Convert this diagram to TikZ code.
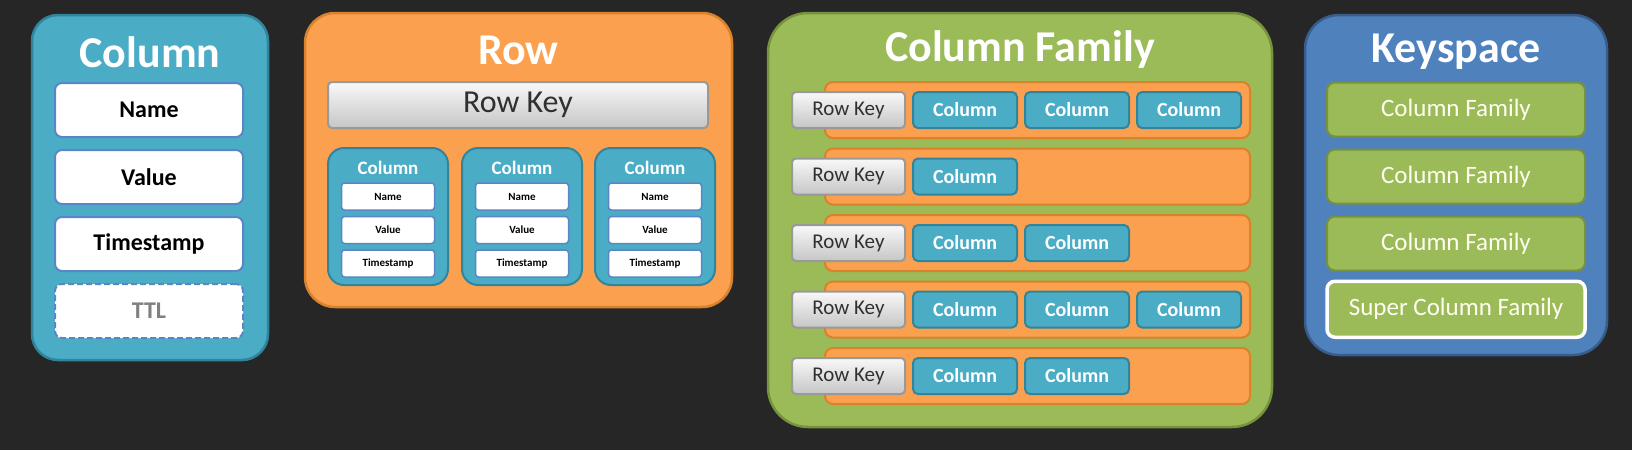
\documentclass[tikz,border=0pt]{standalone}
\usepackage{fontspec}
\setmainfont{Carlito}
\usepackage{tikz}
\usetikzlibrary{positioning}
\usepackage{xcolor}
\definecolor{bg}{HTML}{262626}
\definecolor{colblue}{HTML}{4BACC6}
\definecolor{colline}{HTML}{31849B}
\definecolor{fieldline}{HTML}{5A86C8}
\definecolor{roworange}{HTML}{FBA04E}
\definecolor{rowline}{HTML}{D9822B}
\definecolor{cfgreen}{HTML}{9BBB59}
\definecolor{cfline}{HTML}{76923C}
\definecolor{ksblue}{HTML}{4F81BD}
\definecolor{ksline}{HTML}{385D8A}
\definecolor{keytext}{HTML}{303030}

\begin{document}
\begin{tikzpicture}[x=1pt, y=-1pt,
  panel/.style={rectangle, draw, line width=2.5pt, inner sep=0pt},
  title/.style={font=\fontsize{44}{48}\selectfont\bfseries, text=white},
  field/.style={rectangle, draw=fieldline, fill=white, line width=2pt, rounded corners=7pt, minimum width=188pt, minimum height=54pt, font=\fontsize{24}{28}\selectfont\bfseries},
  smallfield/.style={rectangle, draw=fieldline, fill=white, line width=1.5pt, rounded corners=3pt, minimum width=93pt, minimum height=27pt, font=\fontsize{11}{13}\selectfont\bfseries},
  subcol/.style={rectangle, draw=colline, fill=colblue, line width=2pt, rounded corners=16pt, minimum width=120pt, minimum height=137pt},
  rowkey/.style={rectangle, draw=gray!80, line width=2pt, rounded corners=4pt, top color=white!95!gray, bottom color=gray!45, text=keytext},
  rowbar/.style={rectangle, draw=rowline, fill=roworange, line width=2pt, rounded corners=8pt, minimum width=425pt, minimum height=56pt},
  colcell/.style={rectangle, draw=colline, fill=colblue, line width=2pt, rounded corners=5pt, minimum width=104pt, minimum height=36pt, text=white, font=\fontsize{20}{24}\selectfont\bfseries},
  family/.style={rectangle, draw=cfline, fill=cfgreen, line width=2pt, rounded corners=8pt, minimum width=258pt, minimum height=54pt, text=white!94!yellow, font=\fontsize{25}{29}\selectfont}
]
  % Background
  \fill[bg] (0,0) rectangle (1632,450);
  \useasboundingbox (0,0) rectangle (1632,450);

  % Column
  \node[panel, draw=colline, fill=colblue, rounded corners=26pt, minimum width=236pt, minimum height=345pt] (column) at (150,187.5) {};
  \node[title] (coltitle) at (150,52) {Column};
  \node[field] (name) at (149,110) {Name};
  \node[field, below=11pt of name] (value) {Value};
  \node[field, below=11pt of value] (stamp) {Timestamp};
  \node[field, below=11pt of stamp, dash pattern=on 6pt off 3pt, text=gray] (ttl) {TTL};

  % Row
  \node[panel, draw=rowline, fill=roworange, rounded corners=30pt, minimum width=427pt, minimum height=294pt] (row) at (518.5,160) {};
  \node[title] (rowtitle) at (518.5,50) {Row};
  \node[rowkey, minimum width=380pt, minimum height=46pt, font=\fontsize{32}{36}\selectfont] (rowkey) at (518,105) {Row Key};

  \node[subcol] (sub1) at (388,216.5) {};
  \node[subcol] (sub2) at (522,216.5) {};
  \node[subcol] (sub3) at (655,216.5) {};
  \node[text=white, font=\fontsize{19}{22}\selectfont\bfseries] at (388,168) {Column};
  \node[text=white, font=\fontsize{19}{22}\selectfont\bfseries] at (522,168) {Column};
  \node[text=white, font=\fontsize{19}{22}\selectfont\bfseries] at (655,168) {Column};
  \node[smallfield] (name1) at (388,196.5) {Name};
  \node[smallfield, below=5pt of name1] (value1) {Value};
  \node[smallfield, below=5pt of value1] (stamp1) {Timestamp};
  \node[smallfield] (name2) at (522,196.5) {Name};
  \node[smallfield, below=5pt of name2] (value2) {Value};
  \node[smallfield, below=5pt of value2] (stamp2) {Timestamp};
  \node[smallfield] (name3) at (655,196.5) {Name};
  \node[smallfield, below=5pt of name3] (value3) {Value};
  \node[smallfield, below=5pt of value3] (stamp3) {Timestamp};

  % Column Family
  \node[panel, draw=cfline, fill=cfgreen, rounded corners=40pt, minimum width=504pt, minimum height=414pt] (cf) at (1020,220) {};
  \node[title] (cftitle) at (1020,50) {Column Family};

  \node[rowbar] (bar1) at (1037.5,110) {};
  \node[rowbar] (bar2) at (1037.5,176.5) {};
  \node[rowbar] (bar3) at (1037.5,243) {};
  \node[rowbar] (bar4) at (1037.5,309.5) {};
  \node[rowbar] (bar5) at (1037.5,376) {};

  \node[rowkey, minimum width=113pt, minimum height=36pt, font=\fontsize{21}{24}\selectfont] (rk1) at (848.5,110) {Row Key};
  \node[colcell, right=6pt of rk1] (c11) {Column};
  \node[colcell, right=6pt of c11] (c12) {Column};
  \node[colcell, right=6pt of c12] (c13) {Column};

  \node[rowkey, minimum width=113pt, minimum height=36pt, font=\fontsize{21}{24}\selectfont] (rk2) at (848.5,176.5) {Row Key};
  \node[colcell, right=6pt of rk2] (c21) {Column};

  \node[rowkey, minimum width=113pt, minimum height=36pt, font=\fontsize{21}{24}\selectfont] (rk3) at (848.5,243) {Row Key};
  \node[colcell, right=6pt of rk3] (c31) {Column};
  \node[colcell, right=6pt of c31] (c32) {Column};

  \node[rowkey, minimum width=113pt, minimum height=36pt, font=\fontsize{21}{24}\selectfont] (rk4) at (848.5,309.5) {Row Key};
  \node[colcell, right=6pt of rk4] (c41) {Column};
  \node[colcell, right=6pt of c41] (c42) {Column};
  \node[colcell, right=6pt of c42] (c43) {Column};

  \node[rowkey, minimum width=113pt, minimum height=36pt, font=\fontsize{21}{24}\selectfont] (rk5) at (848.5,376) {Row Key};
  \node[colcell, right=6pt of rk5] (c51) {Column};
  \node[colcell, right=6pt of c51] (c52) {Column};

  % Keyspace
  \node[panel, draw=ksline, fill=ksblue, rounded corners=34pt, minimum width=302pt, minimum height=340pt] (ks) at (1456,185) {};
  \node[title] (kstitle) at (1456,52) {Keyspace};
  \node[family] (fam1) at (1456,109.5) {Column Family};
  \node[family, below=11pt of fam1] (fam2) {Column Family};
  \node[family, below=11pt of fam2] (fam3) {Column Family};
  \node[family, draw=white, line width=3.5pt, minimum height=56pt, below=8pt of fam3] (superfam) {Super Column Family};
\end{tikzpicture}
\end{document}
